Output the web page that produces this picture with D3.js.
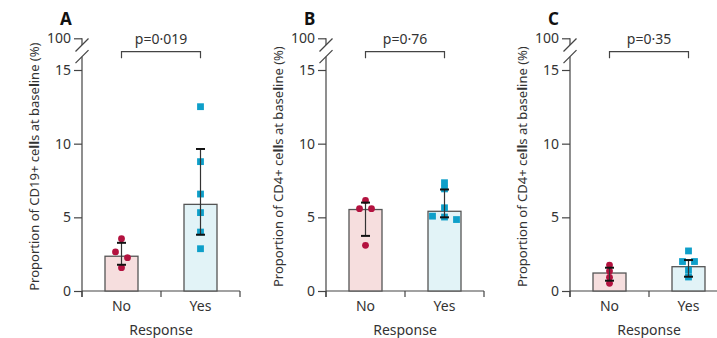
<!DOCTYPE html>
<html>
<head>
<meta charset="utf-8">
<script src="https://cdn.jsdelivr.net/npm/d3@7"></script>
<style>
  body { margin: 0; background: #fff; }
  text { font-family: "Noto Sans", sans-serif; fill: #333; }
</style>
</head>
<body>
<div id="chart"></div>
<script>
var groups = ["No", "Yes"]
var panelLetters = ["A", "B", "C"]
var yLabels = [
    "Proportion of CD19+ cells at baseline (%)",
    "Proportion of CD4+ cells at baseline (%)",
    "Proportion of CD4+ cells at baseline (%)"
]
var pLabels = ["p=0·019", "p=0·76", "p=0·35"]
var yTicks = [0, 5, 10, 15, 100]
var xTitle = "Response"

// bar heights (median) and whiskers, per panel [No, Yes]
var barValues = [[2.36, 5.88], [5.53, 5.41], [1.22, 1.65]]
var errLow = [[1.78, 3.82], [3.74, 5.0], [0.7, 0.97]]
var errHigh = [[3.27, 9.64], [6.0, 6.89], [1.58, 2.1]]

// individual patients
var pointsNo = [[3.55, 2.65, 2.26, 1.58], [6.15, 5.59, 5.59, 3.1], [1.76, 1.35, 0.93, 0.52]]
var pointsYes = [[12.51, 8.78, 6.58, 5.32, 4.0, 2.87], [7.35, 6.93, 5.65, 5.08, 5.02, 4.85], [2.72, 2.0, 2.0, 1.42, 0.95]]

var fills = ["#f6dede", "#e2f3f7"]
var markColor = ["#b3123f", "#0e9fc9"]
var axisColor = "#444"

var svg = d3.select("#chart").append("svg")
    .attr("width", 717)
    .attr("height", 338)

var y = d3.scaleLinear()
    .domain([0, 15, 100])
    .range([291, 70, 38.3])

var x = d3.scaleBand()
    .domain(groups)
    .range([0, 158])

var barW = 33

// spread points that sit on (nearly) the same height
function dodge(vals) {
    var sorted = vals.slice().sort((a, b) => b - a)
    var rows = []
    sorted.forEach(v => {
        var last = rows[rows.length - 1]
        if (last && Math.abs(y(last[0]) - y(v)) < 6) last.push(v)
        else rows.push([v])
    })
    var out = []
    rows.forEach(r => {
        r.forEach((v, i) => out.push({ v: v, dx: (i - (r.length - 1) / 2) * 12 }))
    })
    return out
}

panelLetters.forEach((letter, p) => {
    var g = svg.append("g")
        .attr("transform", "translate(" + (82 + 244 * p) + ",0)")

    // panel letter
    g.append("text")
        .attr("x", -22)
        .attr("y", 24.5)
        .attr("font-size", 17)
        .attr("font-weight", 700)
        .style("fill", "#111")
        .text(letter)

    // y axis (with break between 15 and 100)
    var ya = g.append("g")
        .call(d3.axisLeft(y).tickValues(yTicks).tickSize(8).tickPadding(3))
    ya.select(".domain").remove()
    ya.selectAll("line").attr("stroke", axisColor).attr("stroke-width", 1.2)
    ya.selectAll("text").attr("font-size", 14).style("font-family", "Noto Sans").style("fill", "#333")

    var b1 = y(100) + 6.7
    var b2 = y(15) - 13.3
    g.append("line").attr("x1", 0).attr("x2", 0).attr("y1", y(100)).attr("y2", b1)
        .attr("stroke", axisColor).attr("stroke-width", 1.2)
    g.append("line").attr("x1", 0).attr("x2", 0).attr("y1", b2).attr("y2", y(0) + 6)
        .attr("stroke", axisColor).attr("stroke-width", 1.2)
    ;[b1, b2].forEach(b => {
        g.append("line")
            .attr("x1", -6.5).attr("y1", b + 6.5)
            .attr("x2", 6.5).attr("y2", b - 6.5)
            .attr("stroke", axisColor).attr("stroke-width", 1.2)
    })

    // x axis
    var xa = g.append("g")
        .attr("transform", "translate(0," + y(0) + ")")
        .call(d3.axisBottom(x).tickSize(0).tickPadding(10))
    xa.select(".domain").attr("stroke", axisColor).attr("stroke-width", 1.2).attr("d", "M0,0H" + x.range()[1])
    xa.selectAll("text").attr("font-size", 14).style("font-family", "Noto Sans").style("fill", "#333")
    var bounds = groups.map(d => x(d)).concat([x.range()[1]])
    xa.selectAll(".bound").data(bounds).enter().append("line")
        .attr("class", "bound")
        .attr("x1", d => d).attr("x2", d => d)
        .attr("y1", 0).attr("y2", 6)
        .attr("stroke", axisColor).attr("stroke-width", 1.2)

    g.append("text")
        .attr("x", x.range()[1] / 2)
        .attr("y", 335)
        .attr("text-anchor", "middle")
        .attr("font-size", 14)
        .text(xTitle)

    // y label, the l's print heavier in the original
    var yl = g.append("text")
        .attr("transform", "translate(-43," + ((y(0) + y(100)) / 2 + 2) + ") rotate(-90)")
        .attr("text-anchor", "middle")
        .attr("font-size", 13)
    yLabels[p].split("l").forEach((part, i) => {
        if (i > 0) yl.append("tspan").attr("font-weight", 700).text("l")
        yl.append("tspan").text(part)
    })

    // bars
    groups.forEach((grp, k) => {
        var cx = x(grp) + x.bandwidth() / 2
        g.append("rect")
            .attr("x", cx - barW / 2)
            .attr("y", y(barValues[p][k]))
            .attr("width", barW)
            .attr("height", y(0) - y(barValues[p][k]))
            .attr("fill", fills[k])
            .attr("stroke", "#555")
            .attr("stroke-width", 1.3)
    })

    // points
    var cNo = x("No") + x.bandwidth() / 2
    var cYes = x("Yes") + x.bandwidth() / 2
    g.selectAll(".dotNo").data(dodge(pointsNo[p])).enter().append("circle")
        .attr("class", "dotNo")
        .attr("cx", d => cNo + d.dx)
        .attr("cy", d => y(d.v))
        .attr("r", 3.4)
        .attr("fill", markColor[0])
    g.selectAll(".sqYes").data(dodge(pointsYes[p])).enter().append("rect")
        .attr("class", "sqYes")
        .attr("x", d => cYes + d.dx - 3.4)
        .attr("y", d => y(d.v) - 3.4)
        .attr("width", 6.8)
        .attr("height", 6.8)
        .attr("fill", markColor[1])

    // error bars
    groups.forEach((grp, k) => {
        var cx = x(grp) + x.bandwidth() / 2
        var lo = y(errLow[p][k]), hi = y(errHigh[p][k])
        g.append("line").attr("x1", cx).attr("x2", cx).attr("y1", lo).attr("y2", hi)
            .attr("stroke", "#333").attr("stroke-width", 1.2)
        ;[lo, hi].forEach(v => {
            g.append("line").attr("x1", cx - 4.5).attr("x2", cx + 4.5).attr("y1", v).attr("y2", v)
                .attr("stroke", "#111").attr("stroke-width", 2)
        })
    })

    // significance bracket
    var by = 51.7
    g.append("path")
        .attr("d", "M" + cNo + "," + (by + 6.6) + "V" + by + "H" + cYes + "V" + (by + 6.6))
        .attr("fill", "none")
        .attr("stroke", "#444")
        .attr("stroke-width", 1.2)
    g.append("text")
        .attr("x", (cNo + cYes) / 2)
        .attr("y", 44.3)
        .attr("text-anchor", "middle")
        .attr("font-size", 14)
        .text(pLabels[p])
})
</script>
</body>
</html>
